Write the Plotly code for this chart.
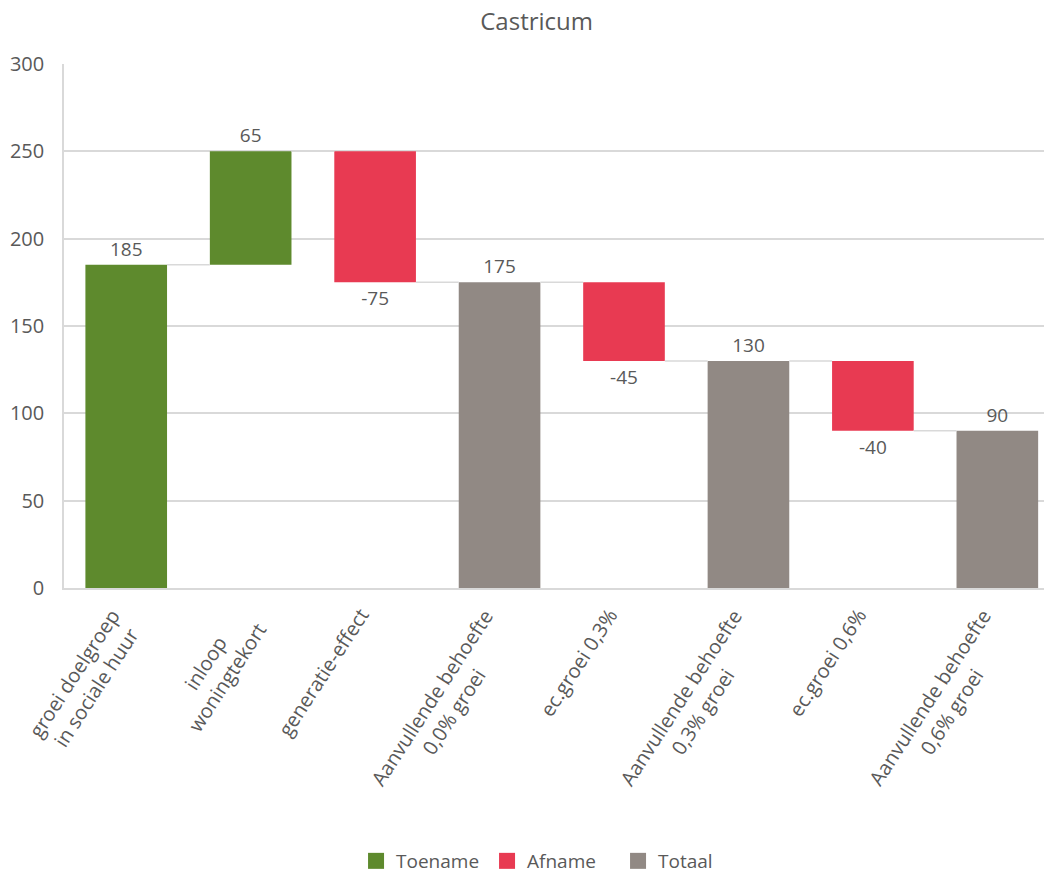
import math
import plotly.graph_objects as go

# Waterfall data: start value, changes and subtotals
categories = [
    "groei doelgroep<br>in sociale huur",
    "inloop<br>woningtekort",
    "generatie-effect",
    "Aanvullende behoefte<br>0,0% groei",
    "ec.groei 0,3%",
    "Aanvullende behoefte<br>0,3% groei",
    "ec.groei 0,6%",
    "Aanvullende behoefte<br>0,6% groei",
]
values = [185, 65, -75, 175, -45, 130, -40, 90]
kinds = ["up", "up", "down", "total", "down", "total", "down", "total"]

GREEN = "#5E8A2D"
RED = "#E83A52"
GREY = "#918984"
TEXT = "#595959"
GRID = "#D9D9D9"
FONT = "Open Sans"
BAR_W = 0.656
LABEL_ANGLE = 57
LABEL_SIZE = 20
LINE_H = 1.3 * LABEL_SIZE

# running level before / after each step
starts, ends = [], []
level = 0
for v, k in zip(values, kinds):
    if k == "total":
        starts.append(0)
        level = v
        ends.append(v)
    else:
        starts.append(level)
        level = level + v
        ends.append(level)

xs = list(range(len(categories)))

fig = go.Figure()

series = [("Toename", "up", GREEN), ("Afname", "down", RED), ("Totaal", "total", GREY)]
for name, kind, color in series:
    idx = [i for i, k in enumerate(kinds) if k == kind]
    fig.add_trace(go.Bar(
        name=name,
        x=[xs[i] for i in idx],
        y=[values[i] for i in idx],
        base=[starts[i] for i in idx],
        width=BAR_W,
        marker=dict(color=color, line=dict(width=0)),
        text=[str(values[i]) for i in idx],
        textposition="outside",
        textfont=dict(family=FONT, size=19, color=TEXT),
        cliponaxis=False,
        hoverinfo="skip",
        showlegend=False,
    ))
    # legend entry with a larger square swatch
    fig.add_trace(go.Scatter(
        name=name, x=[None], y=[None], mode="markers",
        marker=dict(symbol="square", size=16, color=color),
        showlegend=True, hoverinfo="skip",
    ))

# connector lines between consecutive bars
for i in range(len(values) - 1):
    fig.add_shape(
        type="line", xref="x", yref="y",
        x0=xs[i] + BAR_W / 2, x1=xs[i + 1] - BAR_W / 2,
        y0=ends[i], y1=ends[i],
        line=dict(color=GRID, width=1.5),
    )

# rotated, centre-aligned category labels; the top-right corner of each
# text block sits just under its category
sin_a = math.sin(math.radians(LABEL_ANGLE))
for x, label in zip(xs, categories):
    n_lines = label.count("<br>") + 1
    block_h = n_lines * LINE_H + 4
    fig.add_annotation(
        x=x, xref="x", y=0, yref="paper",
        text=label, textangle=-LABEL_ANGLE, align="center",
        xanchor="right", yanchor="top",
        xshift=sin_a * block_h - 23, yshift=-13,
        showarrow=False,
        font=dict(family=FONT, size=LABEL_SIZE, color=TEXT),
    )

fig.update_layout(
    width=1044, height=875,
    margin=dict(l=64, r=0, t=64, b=287),
    paper_bgcolor="white", plot_bgcolor="white",
    barmode="overlay",
    font=dict(family=FONT, size=19, color=TEXT),
    title=dict(text="Castricum", x=0.514, xanchor="center", y=0.975, yanchor="middle",
               font=dict(family=FONT, size=24, color=TEXT)),
    xaxis=dict(
        range=[-0.5, 7.375],
        tickmode="array", tickvals=xs, showticklabels=False,
        showgrid=False,
        showline=True, linecolor=GRID, linewidth=1.5,
        ticks="",
    ),
    yaxis=dict(
        range=[0, 300], dtick=50,
        showgrid=True, gridcolor=GRID, gridwidth=1.5,
        showline=True, linecolor=GRID, linewidth=1.5,
        zeroline=False, ticks="", ticklabelstandoff=14,
        tickfont=dict(family=FONT, size=20, color=TEXT),
    ),
    legend=dict(
        orientation="h", x=0.298, xanchor="left",
        yref="container", y=0.016, yanchor="middle",
        font=dict(family=FONT, size=19, color=TEXT),
        entrywidth=86,
        itemclick=False, itemdoubleclick=False,
    ),
    showlegend=True,
)

fig.write_html("out.html")
